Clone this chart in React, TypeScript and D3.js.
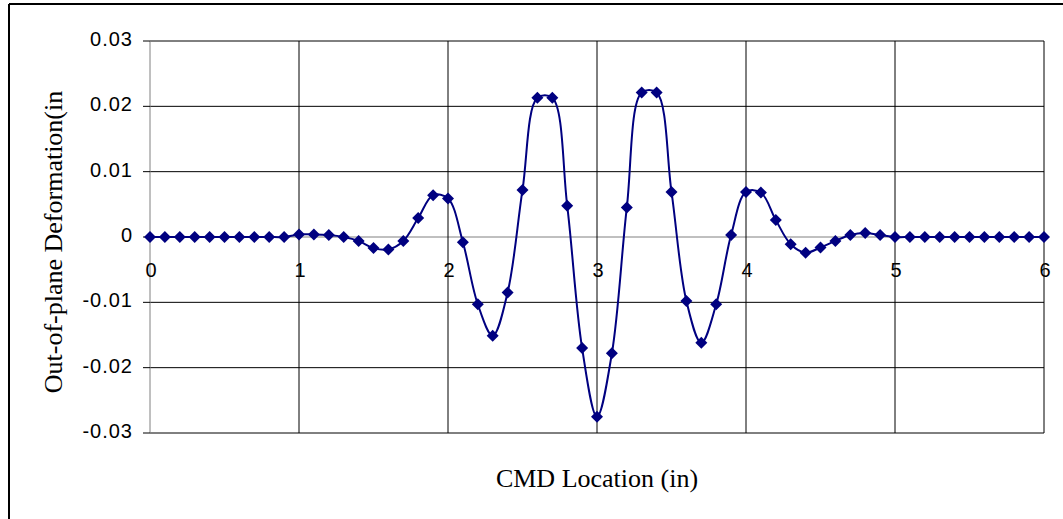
import React from "react";
import * as d3 from "d3";

// CMD location along the specimen (in)
const locations = [
  0, 0.1, 0.2, 0.3, 0.4, 0.5, 0.6, 0.7, 0.8, 0.9,
  1.0, 1.1, 1.2, 1.3, 1.4, 1.5, 1.6, 1.7, 1.8, 1.9,
  2.0, 2.1, 2.2, 2.3, 2.4, 2.5, 2.6, 2.7, 2.8, 2.9,
  3.0, 3.1, 3.2, 3.3, 3.4, 3.5, 3.6, 3.7, 3.8, 3.9,
  4.0, 4.1, 4.2, 4.3, 4.4, 4.5, 4.6, 4.7, 4.8, 4.9,
  5.0, 5.1, 5.2, 5.3, 5.4, 5.5, 5.6, 5.7, 5.8, 5.9, 6.0,
];

// Out-of-plane deformation (in)
const deformation = [
  0, 0, 0, 0, 0, 0, 0, 0, 0, 0,
  0.0004, 0.0004, 0.0003, 0.0, -0.0006, -0.0017, -0.0019, -0.0006, 0.0029, 0.0064,
  0.0059, -0.0008, -0.0103, -0.0151, -0.0085, 0.0072, 0.0213, 0.0213, 0.0048, -0.017,
  -0.0275, -0.0178, 0.0045, 0.0221, 0.0221, 0.0069, -0.0098, -0.0162, -0.0103, 0.0003,
  0.0069, 0.0068, 0.0026, -0.0011, -0.0024, -0.0016, -0.0006, 0.0003, 0.0006, 0.0003,
  0, 0, 0, 0, 0, 0, 0, 0, 0, 0, 0,
];

const xTicks = [0, 1, 2, 3, 4, 5, 6];
const yTicks = [0.03, 0.02, 0.01, 0, -0.01, -0.02, -0.03];
const yTickLabels = ["0.03", "0.02", "0.01", "0", "-0.01", "-0.02", "-0.03"];

const W = 1063;
const H = 519;
const NAVY = "#000080";

export default function App() {
  const x = d3.scaleLinear().domain([0, 6]).range([150, 1044]);
  const y = d3.scaleLinear().domain([-0.03, 0.03]).range([433, 41]);

  const pts = locations.map((l, i) => [l, deformation[i]] as [number, number]);
  const line = d3
    .line<[number, number]>()
    .x((d) => x(d[0]))
    .y((d) => y(d[1]))
    .curve(d3.curveCatmullRom.alpha(0.5));

  const diamond = (cx: number, cy: number, r: number) =>
    `M${cx},${cy - r}L${cx + r},${cy}L${cx},${cy + r}L${cx - r},${cy}Z`;

  return (
    <svg
      width={W}
      height={H}
      style={{ position: "absolute", left: 0, top: 0, background: "#fff" }}
    >
      <rect x={0} y={0} width={W} height={H} fill="#fff" />
      {/* outer chart frame */}
      <line x1={9} y1={4} x2={W} y2={4} stroke="#000" strokeWidth={2} />
      <line x1={9} y1={4} x2={9} y2={H} stroke="#000" strokeWidth={2} />

      {/* horizontal gridlines */}
      {yTicks.map((t) => (
        <line
          key={"h" + t}
          x1={x(0)}
          x2={x(6)}
          y1={y(t)}
          y2={y(t)}
          stroke={t === 0 ? "#808080" : "#000"}
          strokeWidth={1}
        />
      ))}
      {/* vertical gridlines */}
      {xTicks.map((t) => (
        <line
          key={"v" + t}
          x1={x(t)}
          x2={x(t)}
          y1={y(0.03)}
          y2={y(-0.03)}
          stroke={t === 0 ? "#808080" : "#000"}
          strokeWidth={1}
        />
      ))}

      {/* y-axis ticks and labels */}
      {yTicks.map((t, i) => (
        <g key={"yt" + t}>
          <line x1={x(0) - 7} x2={x(0)} y1={y(t)} y2={y(t)} stroke="#000" strokeWidth={1} />
          <text
            x={133}
            y={y(t) + 5}
            textAnchor="end"
            fontFamily="'Liberation Sans', Arial, sans-serif"
            fontSize={20}
            letterSpacing={1}
            fill="#000"
          >
            {yTickLabels[i]}
          </text>
        </g>
      ))}

      {/* x-axis labels, sitting just under the zero line */}
      {xTicks.map((t) => (
        <text
          key={"xt" + t}
          x={x(t) + 1}
          y={y(0) + 40}
          textAnchor="middle"
          fontFamily="'Liberation Sans', Arial, sans-serif"
          fontSize={20}
          fill="#000"
        >
          {String(t)}
        </text>
      ))}

      {/* series */}
      <path d={line(pts) ?? ""} fill="none" stroke={NAVY} strokeWidth={2} />
      {pts.map((p, i) => (
        <path key={"m" + i} d={diamond(x(p[0]), y(p[1]), 6)} fill={NAVY} />
      ))}

      {/* axis titles */}
      <text
        x={597}
        y={487}
        textAnchor="middle"
        fontFamily="'Liberation Serif', 'Times New Roman', serif"
        fontSize={26}
        fill="#000"
      >
        CMD Location (in)
      </text>
      <text
        transform={`translate(62,242) rotate(-90)`}
        textAnchor="middle"
        fontFamily="'Liberation Serif', 'Times New Roman', serif"
        fontSize={26}
        fill="#000"
      >
        Out-of-plane Deformation(in
      </text>
    </svg>
  );
}
